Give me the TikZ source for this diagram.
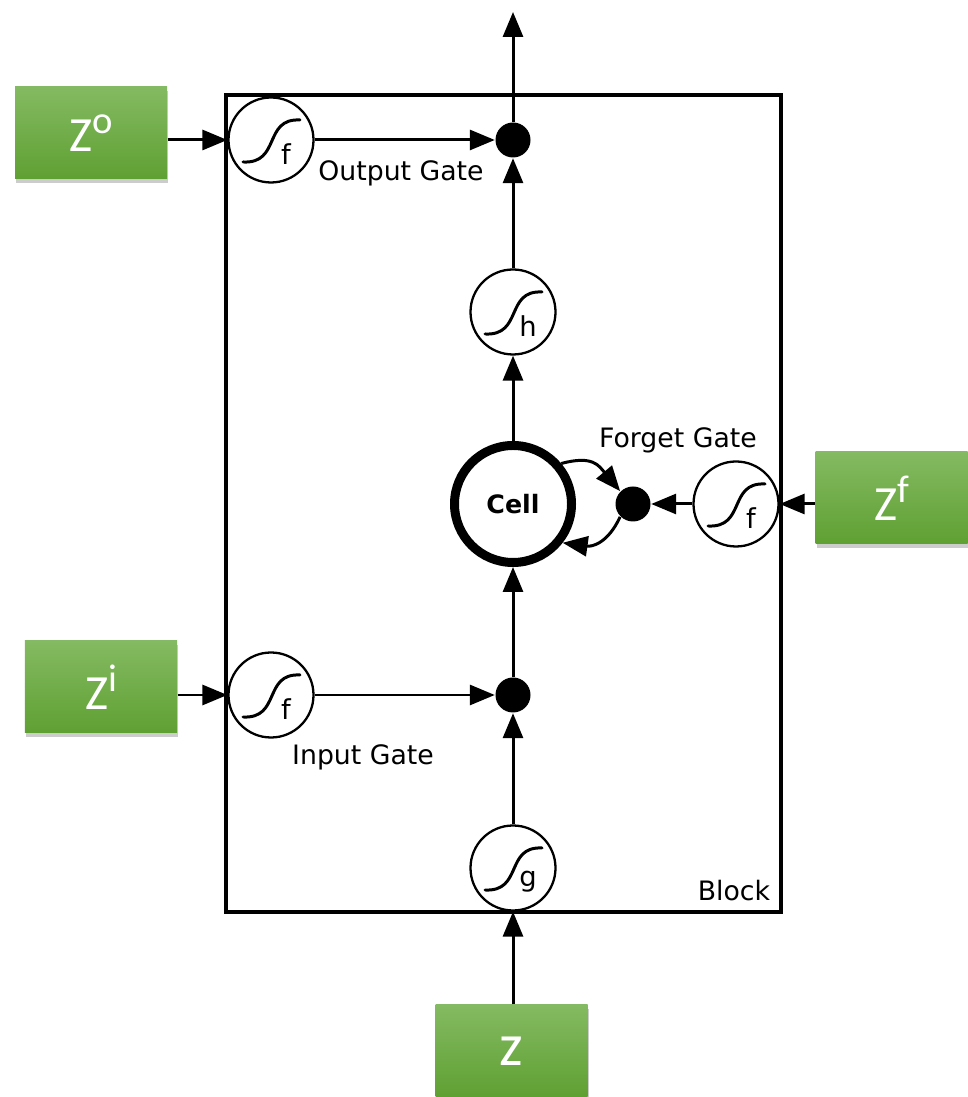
\documentclass[tikz,border=0pt]{standalone}
\usepackage{fontspec}
\setmainfont{DejaVu Sans}
\newfontfamily\boxfont{Carlito}
\usetikzlibrary{arrows.meta}
\usetikzlibrary{shadows}
\definecolor{boxtop}{HTML}{84BA62}
\definecolor{boxbottom}{HTML}{5FA032}
\newcommand{\sigmoid}[2]{
	\draw[line width=0.85pt,line cap=round] ([shift={(-0.28,-0.22)}]#1.center) .. controls ([shift={(0.10,-0.24)}]#1.center) and ([shift={(-0.08,0.22)}]#1.center) .. ([shift={(0.29,0.20)}]#1.center);
	\node[gatetext] (#1text) at ([shift={(0.15,-0.14)}]#1.center) {#2};
}
\newcommand{\zsup}[1]{Z\raisebox{5pt}{\fontsize{11}{13}\selectfont #1}}

\begin{document}
\begin{tikzpicture}[>={Triangle[length=0.25cm,width=0.2cm]}]
	\tikzstyle{gate}=[circle,draw=black,fill=white,line width=0.65pt,minimum size=0.85cm,inner sep=0pt]
	\tikzstyle{junction}=[circle,fill=black,minimum size=0.35cm,inner sep=0pt]
	\tikzstyle{cellring}=[circle,draw=black,fill=white,line width=0.09cm,minimum size=1.17cm,inner sep=0pt,font=\bfseries\fontsize{7.2}{9}\selectfont]
	\tikzstyle{inputbox}=[rectangle,top color=boxtop,bottom color=boxbottom,minimum width=1.52cm,minimum height=0.92cm,inner sep=0pt,text=white,font=\boxfont\fontsize{14}{18}\selectfont,drop shadow={opacity=0.4,shadow xshift=0.01cm,shadow yshift=-0.04cm}]
	\tikzstyle{annot}=[inner sep=0pt,font=\fontsize{7.6}{9}\selectfont]
	\tikzstyle{gatetext}=[inner sep=0pt,font=\fontsize{7.8}{9}\selectfont]
	\tikzstyle{link}=[->,line width=0.85pt]

	\useasboundingbox (0,0) rectangle (9.67,10.97);

	% Draw the block
	\node[rectangle,draw=black,line width=1pt,minimum width=5.55cm,minimum height=8.17cm,inner sep=0pt] (block) at (5.035,5.935) {};

	% Draw gates and junctions
	\node[gate] (gateo) at (2.71,9.57) {};
	\node[gate] (gateh) at (5.13,7.85) {};
	\node[gate] (gatef) at (7.36,5.93) {};
	\node[gate] (gatei) at (2.71,4.02) {};
	\node[gate] (gateg) at (5.13,2.29) {};
	\node[cellring] (cell) at (5.13,5.93) {Cell};
	\node[junction] (dotout) at (5.13,9.57) {};
	\node[junction] (dotforget) at (6.33,5.93) {};
	\node[junction] (dotin) at (5.13,4.02) {};
	\coordinate (out) at (5.13,10.85);

	\sigmoid{gateo}{f}
	\sigmoid{gateh}{h}
	\sigmoid{gatef}{f}
	\sigmoid{gatei}{f}
	\sigmoid{gateg}{g}

	% Draw input boxes
	\node[inputbox] (zo) at (0.91,9.64) {\zsup{o}};
	\node[inputbox] (zf) at (8.915,5.99) {\zsup{f}};
	\node[inputbox] (zi) at (1.01,4.10) {\zsup{i}};
	\node[inputbox,font=\boxfont\fontsize{17}{18}\selectfont] (z) at (5.115,0.46) {z};

	% Draw arrows
	\path[link] (zo.east |- gateo) edge (gateo);
	\path[link] (zi.east |- gatei) edge (gatei);
	\path[link] (gateo) edge (dotout);
	\path[link] (gatei) edge (dotin);
	\path[link] (gateh) edge (dotout);
	\path[link] (dotout) edge (out);
	\path[link] (cell) edge (gateh);
	\path[link] (dotin) edge (cell);
	\path[link] (gateg) edge (dotin);
	\path[link] (gateg |- z.north) edge (gateg);
	\path[link] (gatef) edge (dotforget);
	\path[link] (zf.west |- gatef) edge (gatef);
	\path[link] (cell.40) edge[out=15,in=130,looseness=1.3] (dotforget.135);
	\path[link] (dotforget.225) edge[out=245,in=-8,looseness=1.2] (cell.-38);

	% Draw labels
	\node[annot] (outputgate) at (4.01,9.24) {Output Gate};
	\node[annot] (inputgate) at (3.63,3.40) {Input Gate};
	\node[annot] (forgetgate) at (6.78,6.57) {Forget Gate};
	\node[annot] (blocklabel) at (7.34,2.06) {Block};
\end{tikzpicture}
\end{document}
